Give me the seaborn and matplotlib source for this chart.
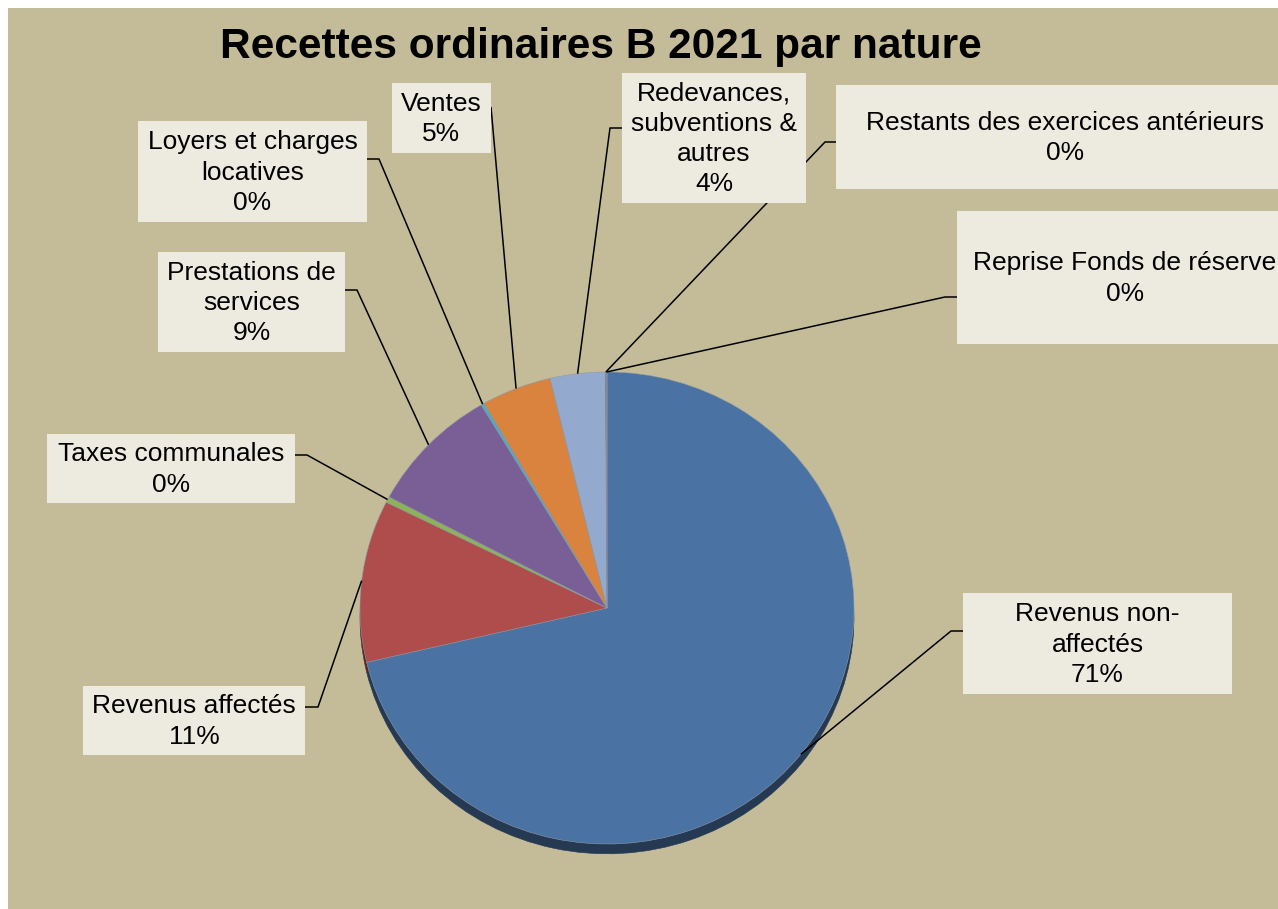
import numpy as np
import matplotlib
matplotlib.use("Agg")
import matplotlib.pyplot as plt
from matplotlib.patches import Rectangle
import seaborn as sns

# data, clockwise from 12 o'clock
categories = [
    "Revenus non-affectés", "Revenus affectés", "Taxes communales",
    "Prestations de services", "Loyers et charges locatives", "Ventes",
    "Redevances, subventions & autres", "Restants des exercices antérieurs",
    "Reprise Fonds de réserve",
]
values = [71.3, 11.1, 0.4, 8.7, 0.2, 4.6, 3.6, 0.05, 0.05]
display_names = [
    "Revenus non-\naffectés", "Revenus affectés", "Taxes communales",
    "Prestations de\nservices", "Loyers et charges\nlocatives", "Ventes",
    "Redevances,\nsubventions &\nautres", "Restants des exercices antérieurs",
    "Reprise Fonds de réserve",
]
colors = ["#4A72A3", "#AF4D4C", "#8DB25A", "#7A5E96", "#4BACC6",
          "#D9833F", "#93AACE", "#2C4D75", "#772C2A"]

# label boxes in pixels (x0, y0, x1, y1), leader start on box and elbow length
layout = {
    "Revenus non-affectés": ((963, 593, 1232, 694), (963, 631), -12),
    "Revenus affectés": ((83, 686, 305, 755), (305, 707), 13),
    "Taxes communales": ((47, 434, 295, 503), (295, 455), 12),
    "Prestations de services": ((158, 252, 345, 352), (345, 290), 12),
    "Loyers et charges locatives": ((138, 121, 367, 222), (367, 159), 12),
    "Ventes": ((392, 83, 491, 153), (491, 107), 0),
    "Redevances, subventions & autres": ((622, 73, 806, 203), (622, 128), -12),
    "Restants des exercices antérieurs": ((836, 85, 1294, 189), (836, 142), -11),
    "Reprise Fonds de réserve": ((957, 211, 1293, 344), (957, 297), -12),
}

W, H = 1278, 909
sns.set_theme(style="white")
plt.rcParams["font.family"] = ["Liberation Sans", "DejaVu Sans"]

fig = plt.figure(figsize=(W / 100, H / 100), dpi=100, facecolor="white")
fig.patches.append(Rectangle((8 / W, 0), 1 - 8 / W, 1 - 8 / H, transform=fig.transFigure,
                             facecolor="#C4BC98", edgecolor="none", zorder=-5))

# pie axes (slightly flattened like the 3D original)
cx, cy, rx, ry = 607, 608, 247, 236
ax = fig.add_axes([(cx - rx) / W, (H - cy - ry) / H, 2 * rx / W, 2 * ry / H], zorder=1)
ax.set_facecolor("none")
wedges, _ = ax.pie(values, colors=colors, startangle=90, counterclock=False,
                   shadow={"ox": 0, "oy": -0.03, "shade": 0.5, "alpha": 1},
                   wedgeprops={"linewidth": 0.4, "edgecolor": "#8E9AA8"})
ax.set_aspect("auto")
ax.set_xlim(-1, 1)
ax.set_ylim(-1, 1)
ax.axis("off")

# overlay in pixel coordinates for boxes and leaders
ov = fig.add_axes([0, 0, 1, 1], zorder=2)
ov.set_xlim(0, W)
ov.set_ylim(H, 0)
ov.set_facecolor("none")
ov.axis("off")

ov.text(601, 47, "Recettes ordinaires B 2021 par nature", ha="center", va="center",
        fontsize=30.5, fontweight="bold", color="black")

total = sum(values)
for name, label, val, w in zip(categories, display_names, values, wedges):
    (x0, y0, x1, y1), (ax_, ay_), elbow = layout[name]
    theta = np.deg2rad((w.theta1 + w.theta2) / 2)
    disp = ax.transData.transform((np.cos(theta), np.sin(theta)))
    px, py = ov.transData.inverted().transform(disp)
    ov.plot([ax_, ax_ + elbow, px], [ay_, ay_, py], color="black", lw=1.1,
            solid_capstyle="butt")
    ov.add_patch(Rectangle((x0, y0), x1 - x0, y1 - y0, facecolor="#EDEBE0",
                           edgecolor="none", zorder=3))
    ov.text((x0 + x1) / 2, (y0 + y1) / 2 + 1, f"{label}\n{val / total * 100:.0f}%",
            ha="center", va="center", fontsize=19, color="black", zorder=4,
            linespacing=1.32)

fig.savefig("out.png", dpi=100, facecolor="white")
plt.close(fig)
